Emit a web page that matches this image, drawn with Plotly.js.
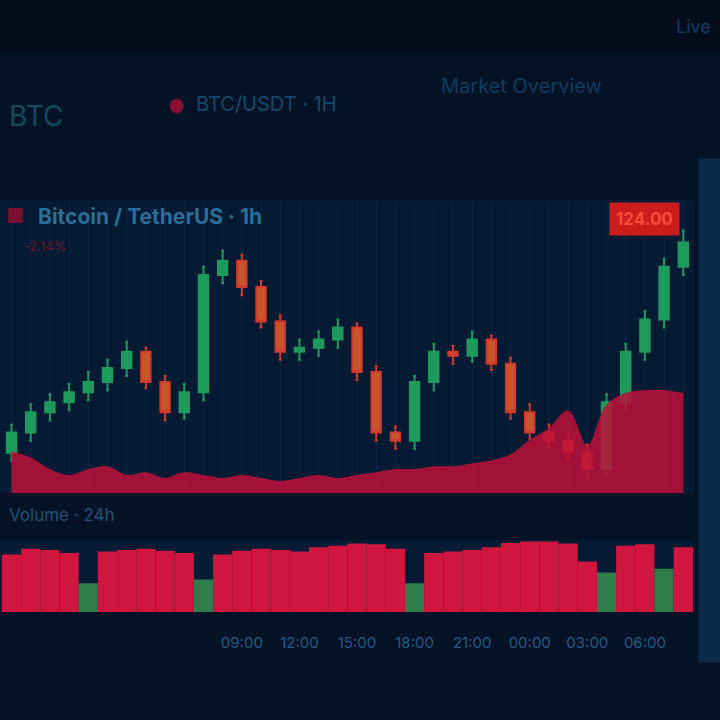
<!DOCTYPE html>
<html><head><meta charset="utf-8">
<script src="https://cdn.plot.ly/plotly-3.0.1.min.js"></script>
<style>html,body{margin:0;padding:0;background:#041226;}#chart{width:720px;height:720px;}</style>
</head><body><div id="chart"></div>
<script>
// ---- data ----
const candleIndex = [0,1,2,3,4,5,6,7,8,9,10,11,12,13,14,15,16,17,18,19,20,21,22,23,24,25,26,27,28,29,30,31,32,33,34,35];
const opens  = [20,30,40,45,50,55,62,70,55,40,50,108,115,102,85,70,72,76,82,60,30,26,55,70,68,76,64,40,30,26,20,12,45,70,86,112];
const highs  = [34,44,49,54,60,66,75,72,58,54,112,120,118,105,88,76,80,86,84,63,33,58,74,73,80,78,67,44,34,30,24,49,74,90,116,130];
const lows   = [16,26,36,41,46,51,58,52,36,37,46,104,98,82,66,66,68,72,56,26,22,22,51,64,65,61,37,27,23,17,8,10,42,66,82,108];
const closes = [30,40,45,50,55,62,70,55,40,50,108,115,102,85,70,72,76,82,60,30,26,55,70,68,76,64,40,30,26,20,12,45,70,86,112,124];
const volumeArea = [14,12,8,6,8,9,6,7,5,7,6,5,6,5,4,5,6,5,6,7,8,8,9,9,10,11,13,18,22,28,16,30,34,35,35,34];
const lowerBars  = [80,88,86,82,40,84,86,88,85,82,45,80,85,88,86,84,90,92,95,94,88,40,82,84,86,90,96,98,98,95,70,55,92,94,60,90];
const lowerUp    = [0,0,0,0,1,0,0,0,0,0,1,0,0,0,0,0,0,0,0,0,0,1,0,0,0,0,0,0,0,0,0,1,0,0,1,0];
const tickPos    = [12,15,18,21,24,27,30,33];
const tickText   = ["09:00","12:00","15:00","18:00","21:00","00:00","03:00","06:00"];

const green = '#1d9a5c', red = '#cf3a2c';
const barColors = lowerUp.map(u => u ? '#2e7d4a' : '#d0163e');

const traces = [
  {type:'scatter', x:candleIndex, y:volumeArea, xaxis:'x', yaxis:'y2', mode:'lines',
   line:{shape:'spline', color:'#b5123c', width:1}, fill:'tozeroy', fillcolor:'rgba(190,16,58,0.85)', hoverinfo:'skip'},
  {type:'candlestick', x:candleIndex, open:opens, high:highs, low:lows, close:closes, xaxis:'x', yaxis:'y',
   increasing:{line:{color:green, width:2}, fillcolor:green},
   decreasing:{line:{color:red, width:2}, fillcolor:'#c8552c'}, whiskerwidth:0.3},
  {type:'bar', x:candleIndex, y:lowerBars, xaxis:'x2', yaxis:'y3', marker:{color:barColors}, width:1.0}
];

const layout = {
  width:720, height:720, margin:{l:0, r:0, t:0, b:0},
  paper_bgcolor:'#041226', plot_bgcolor:'#051a33', showlegend:false,
  font:{family:'Inter, Roboto, sans-serif', color:'#1f5a80'},
  xaxis:{domain:[0,0.965], range:[-0.6,35.6], anchor:'y', rangeslider:{visible:false},
         showticklabels:false, showgrid:true, gridcolor:'rgba(40,80,120,0.18)', zeroline:false, dtick:1},
  yaxis:{domain:[0.315,0.722], range:[0,145], showticklabels:false, showgrid:false, zeroline:false},
  yaxis2:{domain:[0.315,0.722], overlaying:'y', range:[0,100], showticklabels:false, showgrid:false, zeroline:false},
  xaxis2:{domain:[0,0.965], range:[-0.6,35.6], anchor:'y3', showgrid:false, zeroline:false,
          tickvals:tickPos, ticktext:tickText, tickfont:{size:15, color:'#1d5d86'}, ticks:'', ticklabelstandoff:20},
  yaxis3:{domain:[0.15,0.25], range:[0,100], showticklabels:false, showgrid:false, zeroline:false},
  shapes:[
    {type:'rect', xref:'paper', yref:'paper', x0:0.97, x1:1, y0:0.08, y1:0.78, fillcolor:'#0a2a48', line:{width:0}, layer:'below'},
    {type:'rect', xref:'paper', yref:'paper', x0:0, x1:1, y0:0.93, y1:1, fillcolor:'#020a16', line:{width:0}, layer:'below', opacity:0.7}
  ],
  annotations:[
    {xref:'paper', yref:'paper', x:0.01, y:0.865, xanchor:'left', showarrow:false, text:'BTC', font:{size:28, color:'#0f4d5c'}},
    {xref:'paper', yref:'paper', x:0.245, y:0.87, xanchor:'center', showarrow:false, text:'●', font:{size:18, color:'#8a1030'}},
    {xref:'paper', yref:'paper', x:0.27, y:0.875, xanchor:'left', showarrow:false, text:'BTC/USDT · 1H', font:{size:20, color:'#134a6c'}},
    {xref:'paper', yref:'paper', x:0.61, y:0.9, xanchor:'left', showarrow:false, text:'Market Overview', font:{size:20, color:'#0e3d60'}},
    {xref:'paper', yref:'paper', x:0.99, y:0.98, xanchor:'right', showarrow:false, text:'Live', font:{size:18, color:'#0f3f63'}},
    {xref:'paper', yref:'paper', x:0.05, y:0.72, xanchor:'left', showarrow:false, text:'<b>Bitcoin / TetherUS · 1h</b>',
     font:{size:21, color:'#2b6e96'}},
    {xref:'paper', yref:'paper', x:0.005, y:0.72, xanchor:'left', showarrow:false, text:'■', font:{size:20, color:'#7a1030'}},
    {xref:'paper', yref:'paper', x:0.03, y:0.672, xanchor:'left', showarrow:false, text:'-2.14%', font:{size:13, color:'#6a1a2a'}},
    {xref:'paper', yref:'paper', x:0.895, y:0.72, xanchor:'center', showarrow:false, text:'<b>124.00</b>', font:{size:17, color:'#ff4a3a'},
     bgcolor:'#cc1c1c', borderpad:6},
    {xref:'paper', yref:'paper', x:0.01, y:0.268, xanchor:'left', showarrow:false, text:'Volume · 24h', font:{size:17, color:'#1d5478'}}
  ]
};
Plotly.newPlot('chart', traces, layout, {staticPlot:true});
</script></body></html>
